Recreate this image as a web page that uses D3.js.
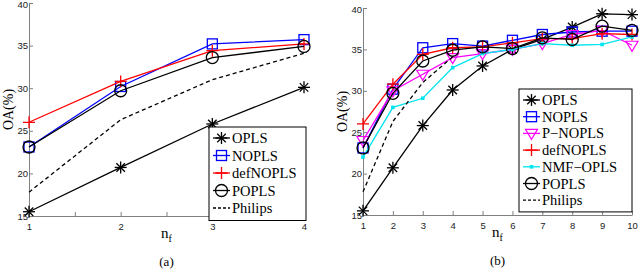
<!DOCTYPE html>
<html>
<head>
<meta charset="utf-8">
<script src="https://cdn.jsdelivr.net/npm/d3@7"></script>
<style>
  body { margin: 0; background: #fff; }
  svg { display: block; font-family: "Liberation Serif", "DejaVu Serif", serif; }
  .axis path, .axis line { stroke: #808080; }
  .axis text { font-size: 9.5px; fill: #222; }
</style>
</head>
<body>
<svg id="chart" width="640" height="272"></svg>
<script>
// values
const nfA = [1, 2, 3, 4];
const nfB = [1, 2, 3, 4, 5, 6, 7, 8, 9, 10];
const yTicks = [15, 20, 25, 30, 35, 40];

const oplsB = [15.5, 20.7, 25.8, 30.1, 33.0, 35.0, 36.2, 37.7, 39.3, 39.2];
const noplsB = [23.1, 30.2, 35.2, 35.7, 35.4, 36.1, 36.8, 37.1, 37.2, 37.2];
const pnoplsB = [24.0, 30.0, 32.0, 34.0, 34.5, 35.0, 35.7, 36.8, 37.3, 35.5];
const defnoplsB = [26.0, 30.8, 34.4, 35.2, 35.3, 35.8, 36.3, 36.3, 36.9, 36.8];
const nmfB = [22.0, 28.0, 29.1, 32.8, 34.5, 35.0, 35.7, 35.5, 35.6, 36.5];
const poplsB = [23.1, 29.7, 33.6, 34.9, 35.3, 35.1, 36.4, 36.2, 37.8, 37.3];
const philips = [17.8, 26.3, 31.0, 34.1];

const svg = d3.select("#chart");

const styles = {
  OPLS: { color: "#000", marker: "star" },
  NOPLS: { color: "#0000ff", marker: "square" },
  "P\u2212NOPLS": { color: "#ff00ff", marker: "tri" },
  defNOPLS: { color: "#ff0000", marker: "plus" },
  "NMF\u2212OPLS": { color: "#00e5ee", marker: "dot" },
  POPLS: { color: "#000", marker: "circle" },
  Philips: { color: "#000", marker: null, dash: "4,3" },
};

function drawMarker(g, type, color) {
  if (type === "star") {
    const r = 6;
    [0, 45, 90, 135].forEach((a) => {
      const t = (a * Math.PI) / 180;
      g.append("line")
        .attr("x1", -r * Math.cos(t)).attr("y1", -r * Math.sin(t))
        .attr("x2", r * Math.cos(t)).attr("y2", r * Math.sin(t))
        .attr("stroke", color).attr("stroke-width", 1.3);
    });
  } else if (type === "square") {
    g.append("rect").attr("x", -5).attr("y", -5).attr("width", 10).attr("height", 10)
      .attr("fill", "none").attr("stroke", color).attr("stroke-width", 1.3);
  } else if (type === "circle") {
    g.append("circle").attr("r", 6).attr("fill", "none")
      .attr("stroke", color).attr("stroke-width", 1.3);
  } else if (type === "tri") {
    g.append("path").attr("d", "M-6,-4L6,-4L0,6Z").attr("fill", "none")
      .attr("stroke", color).attr("stroke-width", 1.2);
  } else if (type === "plus") {
    g.append("path").attr("d", "M-6,0H6M0,-6V6")
      .attr("stroke", color).attr("stroke-width", 1.3);
  } else if (type === "dot") {
    g.append("rect").attr("x", -1.8).attr("y", -1.8).attr("width", 3.6).attr("height", 3.6)
      .attr("fill", color);
  }
}

function panel(o) {
  const x = d3.scaleLinear().domain(o.xDomain).range([o.left, o.right]);
  const y = d3.scaleLinear().domain([15, 40]).range([o.bottom, o.top]);
  const g = svg.append("g");

  g.append("g").attr("class", "axis")
    .attr("transform", `translate(0,${o.bottom})`)
    .call(d3.axisBottom(x).tickValues(o.xTicks).tickSizeInner(-4).tickSizeOuter(0)
      .tickFormat((d) => (Number.isInteger(d) ? d : "")).tickPadding(7));
  const yAxis = g.append("g").attr("class", "axis")
    .attr("transform", `translate(${o.left},0)`)
    .call(d3.axisLeft(y).tickValues(yTicks).tickSizeInner(-4).tickSizeOuter(0).tickPadding(2));
  yAxis.selectAll("text").attr("x", -1);
  // keep the top label inside the picture
  yAxis.selectAll(".tick").filter((d) => d === 40).select("text").attr("dy", "0.5em");

  const line = d3.line().x((d) => x(d[0])).y((d) => y(d[1]));

  o.series.forEach((s) => {
    const st = styles[s.name];
    const pts = s.values.map((v, i) => [o.xs[i], v]);
    g.append("path").datum(pts).attr("d", line).attr("fill", "none")
      .attr("stroke", st.color).attr("stroke-width", 1.3)
      .attr("stroke-dasharray", st.dash || null);
    if (st.marker) {
      pts.forEach((p) => {
        const m = g.append("g").attr("transform", `translate(${x(p[0])},${y(p[1])})`);
        drawMarker(m, st.marker, st.color);
      });
    }
  });

  // labels
  g.append("text").attr("transform", `translate(${o.left - 16},${(o.top + o.bottom) / 2}) rotate(-90)`)
    .attr("text-anchor", "middle").attr("font-size", 14).text("OA(%)");
  const cx = (o.left + o.right) / 2;
  const xl = g.append("text").attr("x", cx).attr("y", o.bottom + 22)
    .attr("text-anchor", "middle").attr("font-size", 15);
  xl.append("tspan").text("n");
  xl.append("tspan").attr("dy", 4).attr("font-size", 10).text("f");
  g.append("text").attr("x", cx).attr("y", o.bottom + 50)
    .attr("text-anchor", "middle").attr("font-size", 13).text(o.caption);

  // legend
  const lg = g.append("g");
  lg.append("rect").attr("x", o.legend.x).attr("y", o.legend.y)
    .attr("width", o.legend.w).attr("height", o.series.length * o.legend.step + 6)
    .attr("fill", "#fff").attr("stroke", "#000").attr("stroke-width", 1);
  o.series.forEach((s, i) => {
    const st = styles[s.name];
    const yy = o.legend.y + 11 + i * o.legend.step;
    const x0 = o.legend.x + 4, x1 = x0 + 17;
    lg.append("line").attr("x1", x0).attr("x2", x1).attr("y1", yy).attr("y2", yy)
      .attr("stroke", st.color).attr("stroke-width", 1.3).attr("stroke-dasharray", st.dash ? "3,2" : null);
    if (st.marker) {
      const m = lg.append("g").attr("transform", `translate(${(x0 + x1) / 2},${yy})`);
      drawMarker(m, st.marker, st.color);
    }
    lg.append("text").attr("x", x1 + 2).attr("y", yy + 5).attr("font-size", 14.5).text(s.name);
  });
}

panel({
  xDomain: [1, 4], xs: nfA, xTicks: [1, 1.5, 2, 2.5, 3, 3.5, 4],
  left: 29, right: 304, top: 3, bottom: 216, caption: "(a)",
  series: [
    { name: "OPLS", values: oplsB.slice(0, 4) },
    { name: "NOPLS", values: noplsB.slice(0, 4) },
    { name: "defNOPLS", values: defnoplsB.slice(0, 4) },
    { name: "POPLS", values: poplsB.slice(0, 4) },
    { name: "Philips", values: philips },
  ],
  legend: { x: 209, y: 127, w: 97, step: 17.5 },
});

panel({
  xDomain: [1, 10], xs: nfB, xTicks: nfB,
  left: 363, right: 632, top: 8, bottom: 215, caption: "(b)",
  series: [
    { name: "OPLS", values: oplsB },
    { name: "NOPLS", values: noplsB },
    { name: "P\u2212NOPLS", values: pnoplsB },
    { name: "defNOPLS", values: defnoplsB },
    { name: "NMF\u2212OPLS", values: nmfB },
    { name: "POPLS", values: poplsB },
    { name: "Philips", values: philips },
  ],
  legend: { x: 519, y: 89, w: 113, step: 16.7 },
});
</script>
</body>
</html>
